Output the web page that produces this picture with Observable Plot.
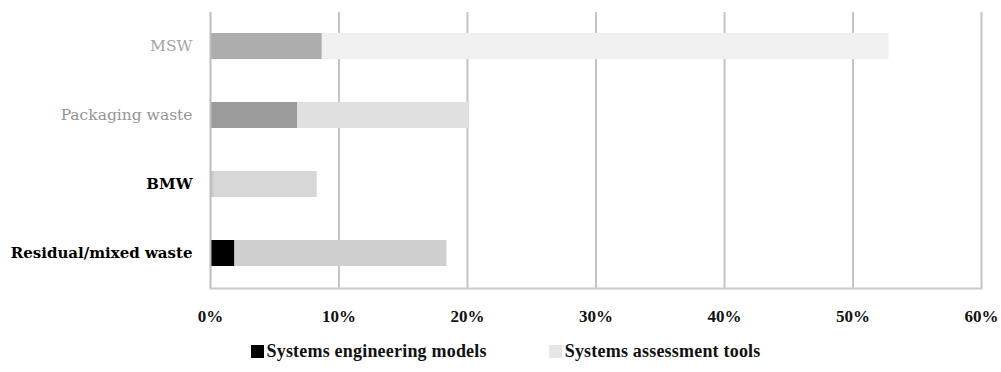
<!DOCTYPE html>
<html>
<head>
<meta charset="utf-8">
<script src="https://cdn.jsdelivr.net/npm/d3@7"></script>
<script src="https://cdn.jsdelivr.net/npm/@observablehq/plot@0.6"></script>
<style>
  html, body { margin: 0; padding: 0; background: #fff; }
  #chart { width: 1001px; }
  .legend { display: flex; justify-content: center; gap: 62px; margin-top: 11px; margin-left: 10px;
    font-family: "Liberation Serif", serif; font-weight: bold; font-size: 18px; color: #111; letter-spacing: 0.2px; }
  .legend span.sw { display: inline-block; width: 13px; height: 13px; margin-right: 3px; vertical-align: -1px; }
</style>
</head>
<body>
<div id="chart"></div>
<script>
// Data
const categories = ["MSW", "Packaging waste", "BMW", "Residual/mixed waste"];
const series = ["Systems engineering models", "Systems assessment tools"];
const engineering = [0.087, 0.068, 0.003, 0.019];
const assessment = [0.441, 0.133, 0.080, 0.165];
const xTicks = [0, 0.1, 0.2, 0.3, 0.4, 0.5, 0.6];

// Styles (scan shades per bar)
const engColors = ["#adadad", "#9b9b9b", "#c9c9c9", "#000000"];
const assColors = ["#f0f0f0", "#e0e0e0", "#d7d7d7", "#cfcfcf"];
const labelColors = ["#a3a3a3", "#959595", "#000", "#000"];

const rows = [];
categories.forEach((c, i) => {
  rows.push({category: c, series: series[0], value: engineering[i], color: engColors[i]});
  rows.push({category: c, series: series[1], value: assessment[i], color: assColors[i]});
});

const serif = "'Liberation Serif', 'DejaVu Serif', serif";
const wideSerif = "'DejaVu Serif', serif";

const plot = Plot.plot({
  width: 1001,
  height: 330,
  marginLeft: 210,
  marginRight: 20,
  marginTop: 12,
  marginBottom: 42,
  style: {fontFamily: serif, background: "#fff"},
  x: {domain: [0, 0.6], ticks: xTicks, label: null},
  y: {domain: categories, paddingInner: 0.62, paddingOuter: 0.31, label: null},
  marks: [
    Plot.ruleX(xTicks.slice(1), {stroke: "#c4c4c4", strokeWidth: 2}),
    Plot.frame({anchor: "bottom", stroke: "#c8c8c8", strokeWidth: 2}),
    Plot.barX(rows, Plot.stackX({y: "category", x: "value", fill: "color", order: null})),
    Plot.ruleX([0], {stroke: "#bdbdbd", strokeWidth: 2}),
    Plot.axisX({ticks: xTicks, tickFormat: d => Math.round(d * 100) + "%", tickSize: 0, tickPadding: 21,
      fontSize: 17, fontWeight: "bold", fill: "#111", label: null}),
    Plot.axisY({ticks: ["MSW", "Packaging waste"], tickSize: 0, tickPadding: 18, fontSize: 15.5,
      fontFamily: wideSerif, fill: d => labelColors[categories.indexOf(d)], label: null}),
    Plot.axisY({ticks: ["BMW", "Residual/mixed waste"], tickSize: 0, tickPadding: 18, fontSize: 15,
      fontFamily: wideSerif, fontWeight: "bold", fill: "#000", label: null})
  ]
});
document.getElementById("chart").appendChild(plot);

const legend = document.createElement("div");
legend.className = "legend";
legend.innerHTML =
  `<div><span class="sw" style="background:#000"></span>${series[0]}</div>` +
  `<div><span class="sw" style="background:#e6e6e6"></span>${series[1]}</div>`;
document.getElementById("chart").appendChild(legend);
</script>
</body>
</html>
